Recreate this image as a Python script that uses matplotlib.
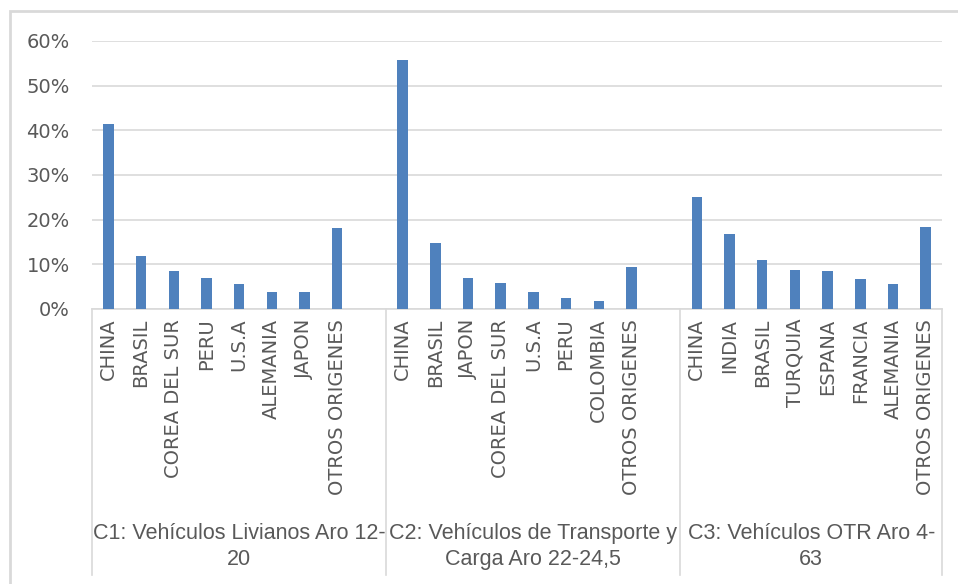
import matplotlib.pyplot as plt
from matplotlib.patches import Rectangle
from matplotlib.ticker import PercentFormatter
import numpy as np

plt.rcParams["font.family"] = ["DejaVu Sans"]

groups = ["C1: Vehículos Livianos Aro 12-\n20",
          "C2: Vehículos de Transporte y\nCarga Aro 22-24,5",
          "C3: Vehículos OTR Aro 4-\n63"]
c1_names = ["CHINA", "BRASIL", "COREA DEL SUR", "PERU", "U.S.A", "ALEMANIA", "JAPON", "OTROS ORIGENES"]
c1_vals = [0.414, 0.119, 0.084, 0.069, 0.056, 0.038, 0.038, 0.181]
c2_names = ["CHINA", "BRASIL", "JAPON", "COREA DEL SUR", "U.S.A", "PERU", "COLOMBIA", "OTROS ORIGENES"]
c2_vals = [0.557, 0.147, 0.069, 0.058, 0.038, 0.024, 0.018, 0.095]
c3_names = ["CHINA", "INDIA", "BRASIL", "TURQUIA", "ESPANA", "FRANCIA", "ALEMANIA", "OTROS ORIGENES"]
c3_vals = [0.250, 0.167, 0.110, 0.087, 0.084, 0.067, 0.055, 0.184]

names = [c1_names, c2_names, c3_names]
vals = [c1_vals, c2_vals, c3_vals]

txt = "#595959"
grid = "#d9d9d9"
blue = "#4f81bd"

fig = plt.figure(figsize=(9.58, 5.84), dpi=100)
ax = fig.add_axes([92/958, 275/584, 850/958, 268/584])

# positions: each group followed by one empty slot (except the last)
pos, labs, hts, seps, centers = [], [], [], [-0.5], []
start = 0
for g, (n, v) in enumerate(zip(names, vals)):
    p = list(range(start, start + len(n)))
    pos += p
    labs += n
    hts += v
    end = start + len(n) + (1 if g < len(names) - 1 else 0)
    seps.append(end - 0.5)
    centers.append((start - 0.5 + end - 0.5) / 2)
    start = end

ax.bar(pos, hts, width=0.32, color=blue, zorder=3)
ax.set_xlim(-0.5, start - 0.5)
ax.set_ylim(0, 0.6)
ax.set_yticks(np.arange(0, 0.61, 0.1))
ax.yaxis.set_major_formatter(PercentFormatter(1.0, decimals=0))
ax.grid(axis="y", color=grid, linewidth=1.2, zorder=0)
ax.set_axisbelow(True)
for s in ["top", "left", "right"]:
    ax.spines[s].set_visible(False)
ax.spines["bottom"].set_color(grid)
ax.spines["bottom"].set_linewidth(1.2)
ax.tick_params(axis="y", length=0, pad=16, labelsize=14, labelcolor=txt)
for t in ax.get_yticklabels():
    t.set_family("DejaVu Sans")
ax.set_xticks(pos)
ax.set_xticklabels(labs, rotation=90, fontsize=14, color=txt, va="top", family="DejaVu Sans")
ax.tick_params(axis="x", length=0, pad=7)

trans = ax.get_xaxis_transform()
for s in seps:
    ax.plot([s, s], [0, -266/268], color=grid, linewidth=1.2, transform=trans, clip_on=False)
for c, g in zip(centers, groups):
    ax.text(c, -214/268, g, transform=trans, ha="center", va="top", fontsize=15.5,
            family="Liberation Sans", color=txt, linespacing=1.3)

fig.patches.append(Rectangle((10/958, -10/584), 960/958, 583/584, transform=fig.transFigure,
                             fill=False, edgecolor=grid, linewidth=2))

fig.savefig("out.png", dpi=100)
